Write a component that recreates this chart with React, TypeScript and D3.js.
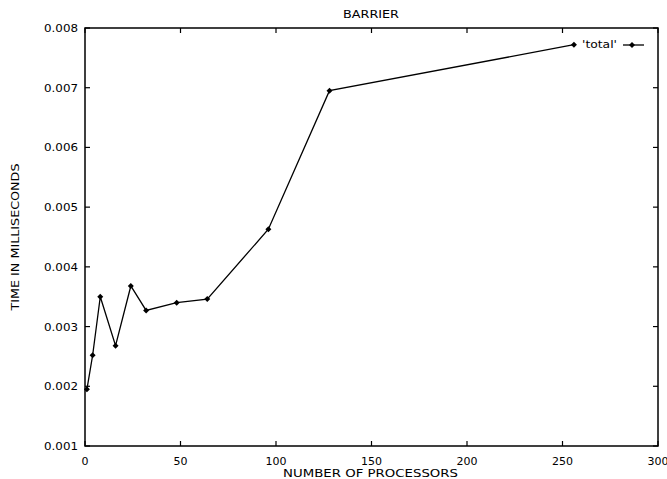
import React from "react";
import * as d3 from "d3";

const processors = [1, 4, 8, 16, 24, 32, 48, 64, 96, 128, 256];
const timeMs = [0.00195, 0.00252, 0.0035, 0.00268, 0.00368, 0.00327, 0.0034, 0.00346, 0.00463, 0.00695, 0.00772];
const xTicks = [0, 50, 100, 150, 200, 250, 300];
const yTicks = [0.001, 0.002, 0.003, 0.004, 0.005, 0.006, 0.007, 0.008];
const seriesName = "'total'";

const W = 667, H = 479;
const M = { left: 85, right: 9, top: 28, bottom: 33 };

export default function App() {
  const x = d3.scaleLinear().domain([0, 300]).range([M.left, W - M.right]);
  const y = d3.scaleLinear().domain([0.001, 0.008]).range([H - M.bottom, M.top]);
  const pts: [number, number][] = processors.map((p, i) => [x(p), y(timeMs[i])]);
  const line = d3.line()(pts) || "";
  const font = "DejaVu Sans, Verdana, sans-serif";
  const x0 = x(0), x1 = x(300), y0 = y(0.001), y1 = y(0.008);
  const tl = 5;
  const marker = (cx: number, cy: number, k: number) => (
    <path key={k} d={`M${cx},${cy - 3}L${cx + 3},${cy}L${cx},${cy + 3}L${cx - 3},${cy}Z`} fill="#000" />
  );
  return (
    <svg width={W} height={H} style={{ position: "absolute", left: 0, top: 0, background: "#fff" }}>
      <rect x={0} y={0} width={W} height={H} fill="#fff" />
      <g stroke="#000" strokeWidth={1.2}>
        {xTicks.map((t) => (
          <g key={"xt" + t}>
            <line x1={x(t)} x2={x(t)} y1={y0} y2={y0 - tl} />
            <line x1={x(t)} x2={x(t)} y1={y1} y2={y1 + tl} />
          </g>
        ))}
        {yTicks.map((t) => (
          <g key={"yt" + t}>
            <line x1={x0} x2={x0 + tl} y1={y(t)} y2={y(t)} />
            <line x1={x1} x2={x1 - tl} y1={y(t)} y2={y(t)} />
          </g>
        ))}
      </g>
      <rect x={x0} y={y1} width={x1 - x0} height={y0 - y1} fill="none" stroke="#000" strokeWidth={1.5} />
      <g fontFamily={font} fontSize={11} fill="#000">
        {xTicks.map((t) => (
          <text key={"xl" + t} x={x(t)} y={y0 + 19} textAnchor="middle">{t}</text>
        ))}
        {yTicks.map((t) => (
          <text key={"yl" + t} x={x0 - 7} y={y(t) + 4} textAnchor="end" textLength={34} lengthAdjust="spacingAndGlyphs">{t.toFixed(3)}</text>
        ))}
        <text x={371} y={18} textAnchor="middle" textLength={56} lengthAdjust="spacingAndGlyphs">BARRIER</text>
        <text x={370.5} y={477} textAnchor="middle" textLength={175} lengthAdjust="spacingAndGlyphs">NUMBER OF PROCESSORS</text>
        <text transform={`translate(19,${(y0 + y1) / 2}) rotate(-90)`} textAnchor="middle" textLength={147} lengthAdjust="spacingAndGlyphs">TIME IN MILLISECONDS</text>
        <text x={617} y={48} textAnchor="end" textLength={35} lengthAdjust="spacingAndGlyphs">{seriesName}</text>
      </g>
      <path d={line} fill="none" stroke="#000" strokeWidth={1.3} />
      {pts.map((p, i) => marker(p[0], p[1], i))}
      <line x1={623} x2={644} y1={45} y2={45} stroke="#000" strokeWidth={1.3} />
      {marker(632, 45, 99)}
    </svg>
  );
}
